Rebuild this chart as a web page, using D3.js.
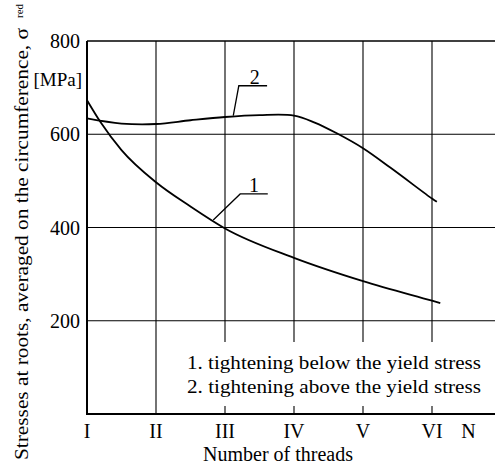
<!DOCTYPE html>
<html>
<head>
<meta charset="utf-8">
<script src="https://cdn.jsdelivr.net/npm/d3@7"></script>
<style>
  body { margin: 0; background: #fff; }
  text { font-family: "Liberation Serif", "Times New Roman", serif; fill: #000; }
</style>
</head>
<body>
<div id="vis"></div>
<script>
// thread positions (I..VI) and the two stress curves
var threadLabels = ['I', 'II', 'III', 'IV', 'V', 'VI'];
var stressTicks = [200, 400, 600, 800];

var curve1X = [1, 1.2, 1.5, 2, 2.5, 3, 4, 5, 6, 6.12];
var curve1Y = [673, 625, 566, 497, 445, 398, 335, 285, 243, 238];

var curve2X = [1, 1.5, 2, 2.5, 3, 3.5, 4, 4.3, 4.62, 5, 5.4, 6, 6.07];
var curve2Y = [634, 623, 622, 630, 637, 641, 640, 625, 602, 570, 528, 462, 455];

var legendLines = ['1. tightening below the yield stress', '2. tightening above the yield stress'];

var width = 495, height = 466;

var x = d3.scaleLinear().domain([1, 7]).range([87, 501]);
var y = d3.scaleLinear().domain([0, 800]).range([414, 41]);
var plotRight = width;

var svg = d3.select('#vis').append('svg')
  .attr('width', width)
  .attr('height', height);

// grid, horizontal
svg.selectAll('.hgrid')
  .data(stressTicks.slice(0, 3))
  .enter().append('line')
  .attr('x1', x(1)).attr('x2', plotRight)
  .attr('y1', function(d) { return y(d); })
  .attr('y2', function(d) { return y(d); })
  .attr('stroke', '#000').attr('stroke-width', 1.1);

// grid, vertical
svg.selectAll('.vgrid')
  .data(d3.range(2, 7))
  .enter().append('line')
  .attr('x1', function(d) { return x(d); })
  .attr('x2', function(d) { return x(d); })
  .attr('y1', y(800)).attr('y2', y(0))
  .attr('stroke', '#000').attr('stroke-width', 1.1);

// white box behind legend, leaves small ticks at the bottom
svg.append('rect')
  .attr('x', 180).attr('y', 342)
  .attr('width', 312).attr('height', 64)
  .attr('fill', '#fff');

// frame: top, left, bottom
svg.append('line').attr('x1', x(1)).attr('x2', plotRight).attr('y1', y(800)).attr('y2', y(800))
  .attr('stroke', '#000').attr('stroke-width', 1.6);
svg.append('line').attr('x1', x(1)).attr('x2', x(1)).attr('y1', y(800)).attr('y2', y(0))
  .attr('stroke', '#000').attr('stroke-width', 2);
svg.append('line').attr('x1', x(1) - 1).attr('x2', plotRight).attr('y1', y(0)).attr('y2', y(0))
  .attr('stroke', '#000').attr('stroke-width', 2);

// curves
var line1 = d3.line()
  .x(function(d) { return x(d[0]); })
  .y(function(d) { return y(d[1]); })
  .curve(d3.curveMonotoneX);

var line2 = d3.line()
  .x(function(d) { return x(d[0]); })
  .y(function(d) { return y(d[1]); })
  .curve(d3.curveCatmullRom.alpha(0.5));

svg.append('path')
  .datum(d3.zip(curve1X, curve1Y))
  .attr('d', line1)
  .attr('fill', 'none').attr('stroke', '#000').attr('stroke-width', 1.8);

svg.append('path')
  .datum(d3.zip(curve2X, curve2Y))
  .attr('d', line2)
  .attr('fill', 'none').attr('stroke', '#000').attr('stroke-width', 1.8);

// leader lines with curve numbers
var leaders = [
  { label: '1', pts: [[2.83, 416], [3.22, 472], [3.62, 472]], tx: 3.42, ty: 476 },
  { label: '2', pts: [[3.12, 640], [3.20, 704], [3.61, 704]], tx: 3.43, ty: 707 }
];
var plain = d3.line().x(function(d) { return x(d[0]); }).y(function(d) { return y(d[1]); });

leaders.forEach(function(l) {
  svg.append('path').attr('d', plain(l.pts))
    .attr('fill', 'none').attr('stroke', '#000').attr('stroke-width', 1.3);
  svg.append('text')
    .attr('x', x(l.tx)).attr('y', y(l.ty))
    .attr('text-anchor', 'middle')
    .style('font-size', '20px')
    .text(l.label);
});

// y tick labels
svg.selectAll('.ytick')
  .data(stressTicks)
  .enter().append('text')
  .attr('x', 80)
  .attr('y', function(d) { return y(d) + 7; })
  .attr('text-anchor', 'end')
  .style('font-size', '20px')
  .text(function(d) { return d; });

svg.append('text')
  .attr('x', 82).attr('y', 86)
  .attr('text-anchor', 'end')
  .style('font-size', '19px')
  .text('[MPa]');

// x tick labels
svg.selectAll('.xtick')
  .data(threadLabels)
  .enter().append('text')
  .attr('x', function(d, i) { return x(i + 1); })
  .attr('y', 438)
  .attr('text-anchor', 'middle')
  .style('font-size', '20px')
  .text(function(d) { return d; });

svg.append('text')
  .attr('x', x(6.53)).attr('y', 438)
  .attr('text-anchor', 'middle')
  .style('font-size', '20px')
  .text('N');

// axis titles
svg.append('text')
  .attr('x', 278).attr('y', 461)
  .attr('text-anchor', 'middle')
  .style('font-size', '20px')
  .text('Number of threads');

var yt = svg.append('text')
  .attr('transform', 'translate(28,460) rotate(-90)')
  .style('font-size', '19px');
yt.append('tspan')
  .attr('textLength', 432)
  .attr('lengthAdjust', 'spacingAndGlyphs')
  .text('Stresses at roots, averaged on the circumference, \u03c3');
yt.append('tspan')
  .attr('dx', 10).attr('dy', -5)
  .style('font-size', '11px')
  .text('red');

// legend
svg.selectAll('.legend')
  .data(legendLines)
  .enter().append('text')
  .attr('x', 187)
  .attr('y', function(d, i) { return 369 + i * 24; })
  .attr('textLength', 294)
  .attr('lengthAdjust', 'spacingAndGlyphs')
  .style('font-size', '19px')
  .text(function(d) { return d; });
</script>
</body>
</html>
